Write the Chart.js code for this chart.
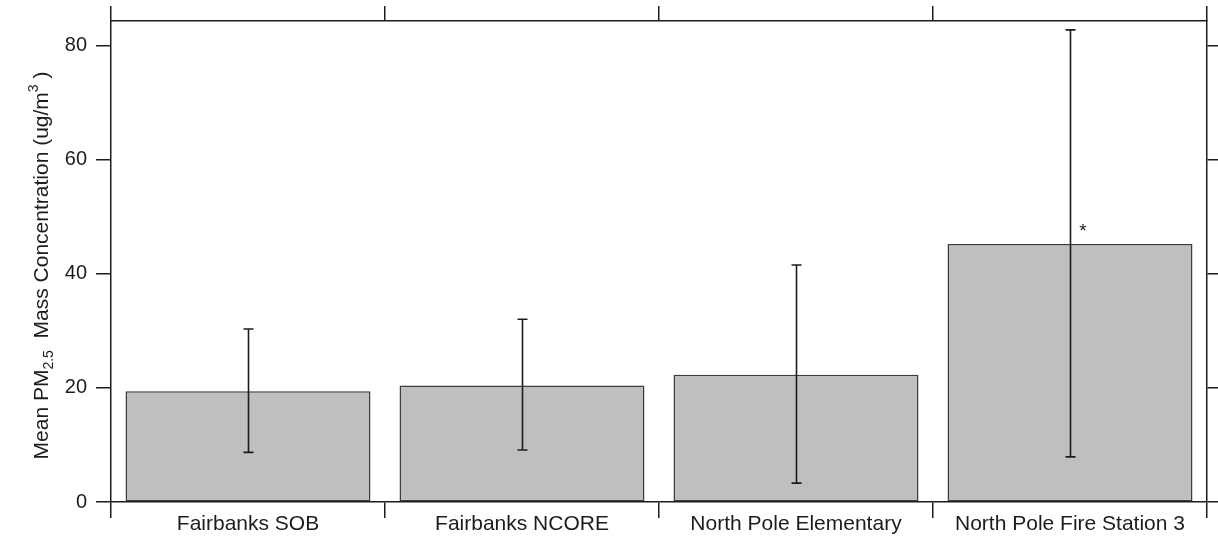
<!DOCTYPE html>
<html>
<head>
<meta charset="utf-8">
<script src="https://cdn.jsdelivr.net/npm/chart.js@4"></script>
<style>
  html, body { margin: 0; padding: 0; background: #ffffff; }
  #wrap { width: 1218px; height: 539px; }
</style>
</head>
<body>
<div id="wrap"><canvas id="c" width="1218" height="539"></canvas></div>
<script>
// Site names along the category axis
const categories = ['Fairbanks SOB', 'Fairbanks NCORE', 'North Pole Elementary', 'North Pole Fire Station 3'];
// Mean PM2.5 mass concentration per site (ug/m3)
const means = [19.4, 20.4, 22.3, 45.2];
// Lower and upper ends of the error bars
const errLow = [8.7, 9.1, 3.3, 7.9];
const errHigh = [30.3, 32.0, 41.5, 82.7];
// Significance markers drawn next to the bars
const marks = ['', '', '', '*'];
// Value axis ticks and range
const yTicks = [0, 20, 40, 60, 80];
const yMin = 0;
const yMax = 84.25;

const FONT = '"Liberation Sans", Arial, sans-serif';
const INK = '#1c1c1c';

function keepTicks(scale) {
  scale.ticks = yTicks.map(v => ({ value: v }));
}

// Error bars and markers
const errorBars = {
  id: 'errorBars',
  afterDatasetsDraw(chart) {
    const ctx = chart.ctx;
    const y = chart.scales.y;
    const meta = chart.getDatasetMeta(0);
    ctx.save();
    ctx.strokeStyle = INK;
    ctx.lineWidth = 1.6;
    meta.data.forEach((bar, i) => {
      const x = Math.round(bar.x) + 0.5;
      const yl = y.getPixelForValue(errLow[i]);
      const yh = y.getPixelForValue(errHigh[i]);
      ctx.beginPath();
      ctx.moveTo(x, yl); ctx.lineTo(x, yh);
      ctx.moveTo(x - 5, yl); ctx.lineTo(x + 5, yl);
      ctx.moveTo(x - 5, yh); ctx.lineTo(x + 5, yh);
      ctx.stroke();
      if (marks[i]) {
        ctx.fillStyle = INK;
        ctx.font = '19px ' + FONT;
        ctx.textAlign = 'center';
        ctx.textBaseline = 'middle';
        ctx.fillText(marks[i], bar.x + 13, y.getPixelForValue(means[i]) - 12);
      }
    });
    ctx.restore();
  }
};

// Rotated value-axis title with sub- and superscripts
const axisTitle = {
  id: 'axisTitle',
  afterDraw(chart) {
    const ctx = chart.ctx;
    const area = chart.chartArea;
    const parts = [
      { t: 'Mean PM', s: 21, dy: 0 },
      { t: '2.5', s: 14, dy: 5 },
      { t: '  Mass Concentration (ug/m', s: 21, dy: 0 },
      { t: '3', s: 14, dy: -10 },
      { t: ' )', s: 21, dy: 0 }
    ];
    ctx.save();
    let total = 0;
    parts.forEach(p => { ctx.font = p.s + 'px ' + FONT; p.w = ctx.measureText(p.t).width; total += p.w; });
    const cy = (area.top + area.bottom) / 2 + 4;
    ctx.translate(48, cy);
    ctx.rotate(-Math.PI / 2);
    ctx.fillStyle = INK;
    ctx.textBaseline = 'alphabetic';
    ctx.textAlign = 'left';
    let x = -total / 2;
    parts.forEach(p => {
      ctx.font = p.s + 'px ' + FONT;
      ctx.fillText(p.t, x, p.dy);
      x += p.w;
    });
    ctx.restore();
  }
};

const gridBase = { drawOnChartArea: false, color: INK, lineWidth: 1.5, tickWidth: 1.5 };
const borderBase = { display: true, color: INK, width: 1.5 };

new Chart(document.getElementById('c'), {
  type: 'bar',
  data: {
    labels: categories,
    datasets: [{
      data: means,
      backgroundColor: '#bfbfbf',
      borderColor: '#3c3c3c',
      borderWidth: 1.5,
      borderSkipped: false,
      barPercentage: 0.894,
      categoryPercentage: 1.0
    }]
  },
  options: {
    responsive: false,
    animation: false,
    devicePixelRatio: 1,
    layout: { padding: 0 },
    plugins: { legend: { display: false }, tooltip: { enabled: false }, title: { display: false } },
    scales: {
      x: {
        type: 'category',
        position: 'bottom',
        offset: true,
        grid: Object.assign({}, gridBase, { offset: true, tickLength: 16 }),
        border: borderBase,
        ticks: { color: INK, font: { family: FONT, size: 21 }, padding: -6, maxRotation: 0, autoSkip: false },
        afterFit(s) { s.height = 37; }
      },
      xTop: {
        type: 'category',
        position: 'top',
        offset: true,
        grid: Object.assign({}, gridBase, { offset: true, tickLength: 15 }),
        border: borderBase,
        ticks: { display: false },
        afterFit(s) { s.height = 20; }
      },
      y: {
        type: 'linear',
        position: 'left',
        min: yMin,
        max: yMax,
        grid: Object.assign({}, gridBase, { tickLength: 15 }),
        border: borderBase,
        ticks: { color: INK, font: { family: FONT, size: 20 }, padding: 9 },
        afterBuildTicks: keepTicks,
        afterFit(s) { s.width = 111; }
      },
      yRight: {
        type: 'linear',
        position: 'right',
        min: yMin,
        max: yMax,
        grid: Object.assign({}, gridBase, { tickLength: 11 }),
        border: borderBase,
        ticks: { display: false },
        afterBuildTicks: keepTicks,
        afterFit(s) { s.width = 11; }
      }
    }
  },
  plugins: [errorBars, axisTitle]
});
</script>
</body>
</html>
